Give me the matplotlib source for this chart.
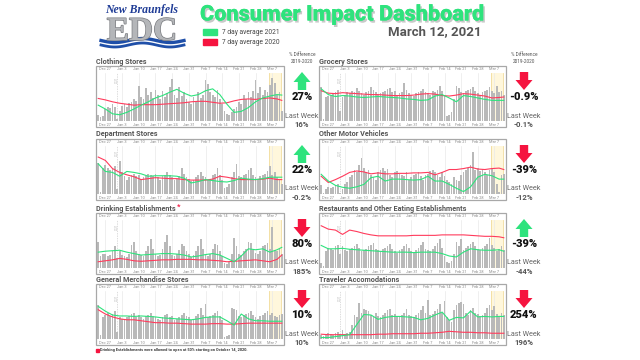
import matplotlib
matplotlib.use("Agg")
import matplotlib.pyplot as plt
import numpy as np
from matplotlib.patches import Rectangle, Polygon
import matplotlib.patheffects as pe

# ---------------- data ----------------
# daily values, Dec 24 2020 .. Mar 11 2021 (78 days), scaled 0-100 of each panel
week_labels = ["Dec 27", "Jan 3", "Jan 10", "Jan 17", "Jan 24", "Jan 31",
               "Feb 7", "Feb 14", "Feb 21", "Feb 28", "Mar 7"]
week_days = [3, 10, 17, 24, 31, 38, 45, 52, 59, 66, 73]
line_days = [0, 3, 6, 9, 12, 15, 18, 21, 24, 27, 30, 33, 36, 39, 42, 45, 48,
             51, 54, 57, 60, 63, 66, 69, 72, 75, 77]

clothing_bars = [12, 8, 10,
                 25, 30, 28, 35, 30, 5, 20,
                 32, 35, 30, 38, 40, 45, 42,
                 72, 50, 45, 68, 55, 60, 48,
                 65, 55, 45, 62, 50, 58, 70,
                 88, 55, 48, 70, 52, 60, 45,
                 40, 35, 50, 42, 60, 48, 55,
                 85, 78, 60, 55, 50, 65, 45,
                 35, 20, 15, 12, 18, 25, 30,
                 40, 35, 55, 45, 60, 50, 62,
                 85, 58, 70, 55, 65, 60, 75,
                 90, 80, 55, 60, 20]
clothing_2021 = [33, 25, 15, 13, 18, 25, 33, 40, 48, 53, 60, 66, 58, 52, 55, 63,
                 67, 55, 35, 18, 20, 28, 40, 48, 52, 55, 54]
clothing_2020 = [47, 44, 40, 37, 35, 33, 34, 34, 34, 35, 36, 37, 38, 40, 41, 41,
                 39, 37, 38, 42, 45, 46, 45, 47, 48, 46, 43]

grocery_bars = [70, 5, 50,
                52, 55, 58, 60, 65, 20, 50,
                55, 60, 58, 62, 60, 68, 62,
                58, 55, 60, 62, 70, 65, 60,
                55, 58, 60, 62, 66, 68, 60,
                62, 55, 58, 60, 80, 65, 58,
                55, 52, 58, 60, 62, 66, 60,
                58, 55, 62, 60, 65, 72, 62,
                55, 10, 12, 18, 45, 72, 68,
                60, 58, 62, 65, 66, 70, 62,
                58, 55, 60, 62, 65, 70, 62,
                58, 72, 60, 62, 55]
grocery_2021 = [67, 55, 51, 53, 52, 50, 49, 50, 51, 50, 49, 48, 46, 45, 43, 44,
                52, 55, 48, 40, 53, 51, 48, 45, 43, 43, 43]
grocery_2020 = [63, 58, 57, 59, 58, 57, 56, 55, 55, 54, 53, 53, 53, 54, 56, 57,
                56, 53, 52, 54, 57, 56, 54, 52, 48, 49, 50]

department_bars = [65, 5, 55,
                   60, 55, 50, 52, 58, 10, 68,
                   45, 38, 30, 35, 40, 42, 38,
                   40, 32, 35, 38, 42, 40, 38,
                   42, 35, 30, 38, 40, 45, 40,
                   35, 30, 32, 38, 55, 42, 35,
                   32, 28, 30, 35, 40, 45, 38,
                   35, 30, 32, 40, 42, 55, 40,
                   30, 12, 15, 20, 35, 45, 62,
                   38, 35, 40, 42, 50, 55, 40,
                   35, 32, 38, 40, 42, 48, 58,
                   40, 45, 35, 30, 20]
department_2021 = [63, 47, 45, 37, 47, 45, 42, 37, 38, 38, 38, 37, 33, 23, 26, 30,
                   28, 26, 25, 28, 33, 31, 30, 32, 35, 35, 35]
department_2020 = [77, 70, 53, 45, 40, 36, 30, 32, 34, 33, 32, 32, 30, 29, 29, 29,
                   31, 37, 35, 32, 30, 30, 30, 31, 33, 30, 30]

motor_bars = [18, 3, 10,
              15, 12, 14, 18, 20, 3, 10,
              20, 25, 35, 40, 50, 45, 60,
              75, 55, 45, 50, 40, 35, 30,
              45, 50, 55, 48, 52, 40, 35,
              45, 48, 42, 40, 38, 45, 30,
              35, 40, 42, 45, 38, 30, 40,
              42, 48, 50, 45, 40, 35, 45,
              38, 30, 25, 20, 35, 30, 28,
              40, 45, 50, 55, 60, 88, 50,
              55, 48, 52, 45, 40, 50, 55,
              45, 20, 5, 40, 42]
motor_2021 = [41, 27, 18, 14, 12, 15, 20, 34, 37, 27, 31, 31, 30, 29, 30, 37,
              27, 27, 20, 12, 5, 15, 35, 41, 38, 31, 31]
motor_2020 = [37, 24, 30, 37, 45, 48, 46, 42, 44, 42, 42, 43, 43, 44, 44, 45,
              40, 45, 51, 51, 53, 56, 52, 51, 53, 54, 51]

drinking_bars = [55, 25, 30,
                 30, 25, 28, 35, 45, 20, 35,
                 28, 25, 22, 30, 48, 55, 35,
                 30, 28, 25, 35, 45, 60, 40,
                 30, 25, 28, 40, 55, 68, 45,
                 28, 25, 30, 38, 50, 45, 35,
                 30, 22, 28, 35, 45, 60, 40,
                 28, 25, 30, 40, 50, 48, 35,
                 25, 10, 8, 12, 30, 62, 45,
                 30, 28, 35, 40, 55, 52, 38,
                 32, 30, 35, 45, 48, 52, 40,
                 85, 38, 35, 40, 30]
drinking_2021 = [33, 35, 36, 37, 33, 30, 27, 28, 29, 30, 30, 29, 27, 23, 25, 28,
                 30, 27, 20, 13, 25, 40, 38, 40, 33, 38, 43]
drinking_2020 = [13, 15, 17, 20, 18, 15, 14, 15, 16, 17, 17, 18, 18, 18, 17, 17,
                 16, 15, 13, 14, 15, 16, 17, 15, 13, 18, 27]

restaurant_bars = [10, 5, 35,
                   42, 40, 38, 45, 48, 30, 45,
                   38, 35, 40, 42, 45, 50, 42,
                   35, 38, 40, 45, 48, 52, 40,
                   38, 35, 40, 42, 45, 50, 40,
                   35, 32, 38, 40, 45, 50, 42,
                   35, 33, 38, 42, 48, 55, 40,
                   38, 35, 40, 45, 52, 60, 42,
                   25, 12, 10, 15, 30, 55, 45,
                   60, 38, 42, 45, 50, 55, 45,
                   40, 38, 42, 45, 50, 62, 48,
                   42, 35, 40, 45, 38]
restaurant_2021 = [47, 40, 40, 41, 39, 38, 37, 36, 35, 34, 33, 33, 33, 32, 33, 33,
                   33, 30, 25, 23, 33, 40, 38, 37, 37, 38, 35]
restaurant_2020 = [88, 81, 79, 70, 79, 76, 72, 69, 67, 67, 67, 67, 67, 68, 68, 68,
                   68, 69, 69, 69, 69, 68, 67, 66, 66, 65, 63]

general_bars = [70, 8, 45,
                50, 55, 48, 52, 58, 15, 45,
                42, 40, 45, 48, 52, 55, 45,
                50, 45, 42, 48, 50, 55, 48,
                45, 42, 40, 45, 50, 52, 45,
                48, 40, 42, 45, 50, 55, 48,
                45, 40, 42, 48, 52, 65, 50,
                72, 45, 48, 50, 55, 58, 48,
                40, 5, 6, 8, 64, 62, 60,
                48, 45, 50, 52, 55, 58, 50,
                45, 42, 48, 50, 55, 58, 50,
                55, 48, 45, 50, 52]
general_2021 = [68, 58, 50, 48, 48, 47, 48, 47, 46, 44, 43, 42, 41, 40, 42, 45,
                46, 46, 38, 29, 52, 42, 38, 38, 37, 37, 37]
general_2020 = [61, 52, 46, 42, 40, 40, 38, 36, 34, 34, 33, 33, 32, 31, 31, 31,
                32, 32, 31, 31, 32, 33, 33, 33, 33, 33, 33]

traveler_bars = [8, 6, 10,
                 12, 10, 8, 12, 15, 10, 18,
                 10, 12, 15, 30, 50, 45, 75,
                 55, 62, 60, 58, 50, 45, 55,
                 48, 45, 50, 55, 60, 62, 50,
                 52, 48, 45, 50, 55, 62, 50,
                 48, 45, 50, 55, 60, 68, 55,
                 82, 50, 52, 58, 62, 72, 55,
                 80, 45, 40, 35, 60, 70, 75,
                 78, 72, 55, 50, 60, 65, 55,
                 52, 48, 50, 55, 65, 70, 60,
                 68, 52, 45, 55, 50]
traveler_2021 = [3, 3, 5, 7, 9, 30, 51, 50, 41, 45, 47, 47, 46, 45, 40, 43,
                 50, 56, 39, 45, 44, 58, 46, 47, 46, 47, 47]
traveler_2020 = [10, 9, 9, 9, 9, 9, 9, 9, 10, 10, 11, 11, 11, 11, 12, 12,
                 13, 14, 16, 15, 14, 14, 13, 13, 12, 12, 12]

panel_titles = ["Clothing Stores", "Grocery Stores", "Department Stores",
                "Other Motor Vehicles", "Drinking Establishments",
                "Restaurants and Other Eating Establishments",
                "General Merchandise Stores", "Traveler Accomodations"]
pct_diff = ["27%", "-0.9%", "22%", "-39%", "80%", "-39%", "10%", "254%"]
last_week = ["16%", "-0.1%", "-0.2%", "-12%", "185%", "-44%", "10%", "196%"]
arrow_up = [True, False, True, False, False, True, False, False]

all_bars = [clothing_bars, grocery_bars, department_bars, motor_bars,
            drinking_bars, restaurant_bars, general_bars, traveler_bars]
all_2021 = [clothing_2021, grocery_2021, department_2021, motor_2021,
            drinking_2021, restaurant_2021, general_2021, traveler_2021]
all_2020 = [clothing_2020, grocery_2020, department_2020, motor_2020,
            drinking_2020, restaurant_2020, general_2020, traveler_2020]
for b in all_bars:
    assert len(b) == 78, len(b)
for l in all_2021 + all_2020:
    assert len(l) == len(line_days), len(l)

# ---------------- style ----------------
W, H = 640, 360
GREEN = '#2ee37d'
RED = '#f5143f'
LINE_RED = '#ff3b5c'
BAR = '#b9b9b9'

fig = plt.figure(figsize=(6.4, 3.6), dpi=100)
fig.patch.set_facecolor('white')


def fx(x):
    return x / W


def fy(y):
    return 1 - y / H


def ftext(x, y, s, **kw):
    return fig.text(fx(x), fy(y), s, **kw)


# ---------------- header ----------------
ftext(142, 9.5, "New Braunfels", family='Liberation Serif', style='italic',
      weight='bold', color='#1f3c96', fontsize=8.5, ha='center', va='center')
ftext(142, 40, "EDC", family='Liberation Serif', weight='bold', color='#b4b6b9',
      fontsize=24, ha='center', va='baseline',
      path_effects=[pe.withStroke(linewidth=1.0, foreground='#7a7c80')])
wx = np.linspace(101, 184, 60)
for off, lw in [(0, 2.4), (4.5, 2.0)]:
    wy = 40.5 + off + 2.0 * np.sin((wx - 101) / 83 * 2 * np.pi * 1.5)
    fig.add_artist(plt.Line2D(fx(wx), fy(wy), color='#1f4fa8', lw=lw,
                              transform=fig.transFigure))

ftext(200, 14.5, "Consumer Impact Dashboard", family='Roboto', weight='heavy',
      fontsize=15.6, color=GREEN, ha='left', va='center',
      path_effects=[pe.withSimplePatchShadow(offset=(1.2, -1.5),
                                             shadow_rgbFace='#888888', alpha=0.45),
                    pe.Normal()])
ftext(482, 32, "March 12, 2021", family='Roboto', weight='bold', fontsize=9.5,
      color='#555555', ha='right', va='center')

fig.add_artist(Rectangle((fx(203), fy(35)), 14 / W, 6 / H, color=GREEN,
                         transform=fig.transFigure))
fig.add_artist(Rectangle((fx(203), fy(45)), 14 / W, 6 / H, color=RED,
                         transform=fig.transFigure))
ftext(222, 32, "7 day average 2021", family='Roboto', fontsize=4.8,
      color='#444444', ha='left', va='center')
ftext(222, 42, "7 day average 2020", family='Roboto', fontsize=4.8,
      color='#444444', ha='left', va='center')

# ---------------- panels ----------------
col_x = [(96, 284), (319, 506)]
ind_cx = [302, 524]
row_y = [(66, 127), (139, 200), (213, 274), (284, 345)]

days = np.arange(78)


def draw_panel(i):
    col = i % 2
    row = i // 2
    x0, x1 = col_x[col]
    y0, y1 = row_y[row]
    fig.add_artist(Rectangle((fx(x0), fy(y1)), (x1 - x0) / W, (y1 - y0) / H,
                             fill=False, ec='#a8a8a8', lw=0.9,
                             transform=fig.transFigure))
    ftext(x0, y0 - 4.5, panel_titles[i], family='Roboto', weight='bold',
          fontsize=5.2, color='#555555', ha='left', va='center')
    if i == 4:
        ftext(x0 + 81, y0 - 6.5, "*", family='Roboto', weight='bold',
              fontsize=5.5, color=RED, ha='left', va='center')
    ax = fig.add_axes([fx(x0 + 1), fy(y1 - 6), (x1 - x0 - 2) / W,
                       (y1 - y0 - 13) / H])
    ax.set_xlim(-0.5, 77.5)
    ax.set_ylim(0, 100)
    ax.axvspan(71.5, 76.5, color='#fff7dc', zorder=0, lw=0)
    for xv in (71.5, 76.5):
        ax.axvline(xv, color='#f1dc9c', lw=0.6, zorder=0.5)
    for wd in week_days:
        ax.axvline(wd, color='#e9e9e9', lw=0.5, zorder=0.4)
    ax.axvline(8, color='#cfcfcf', lw=0.5, ls=(0, (2, 1.5)), zorder=0.6)
    ax.text(8, 92, "2021", rotation=90, fontsize=2.2, color='#bbbbbb',
            ha='center', va='top', family='Roboto')
    ax.bar(days, all_bars[i], width=0.72, color=BAR, zorder=1)
    ax.plot(line_days, all_2020[i], color=LINE_RED, lw=0.8, zorder=3)
    ax.plot(line_days, all_2021[i], color=GREEN, lw=0.8, zorder=3)
    for s in ax.spines.values():
        s.set_visible(False)
    ax.set_yticks([])
    ax.set_xticks(week_days)
    ax.set_xticklabels(week_labels, family='Roboto')
    ax.tick_params(axis='x', length=0, labelsize=2.8, labelcolor='#8a8a8a',
                   labeltop=True, labelbottom=True, pad=1.1)
    ax.patch.set_alpha(0)

    # indicator
    cx = ind_cx[col]
    if row == 0:
        ftext(cx, 55, "% Difference", family='Roboto', fontsize=3.4,
              color='#555555', ha='center', va='center')
        ftext(cx, 61.5, "2019-2020", family='Roboto', fontsize=3.4,
              color='#555555', ha='center', va='center')
    a_top = y0 + 6
    a_bot = y0 + 24
    hw, sw, hh = 8.5, 4.2, 10
    if arrow_up[i]:
        pts = [(cx, a_top), (cx + hw, a_top + hh), (cx + sw, a_top + hh),
               (cx + sw, a_bot), (cx - sw, a_bot), (cx - sw, a_top + hh),
               (cx - hw, a_top + hh)]
        c = GREEN
    else:
        pts = [(cx, a_bot), (cx + hw, a_bot - hh), (cx + sw, a_bot - hh),
               (cx + sw, a_top), (cx - sw, a_top), (cx - sw, a_bot - hh),
               (cx - hw, a_bot - hh)]
        c = RED
    fig.add_artist(Polygon([(fx(px), fy(py)) for px, py in pts], closed=True,
                           color=c, transform=fig.transFigure, lw=0))
    ftext(cx, y0 + 31, pct_diff[i], family='Roboto', weight='heavy',
          fontsize=8, color='#111111', ha='center', va='center')
    ftext(cx, y0 + 50, "Last Week", family='Roboto', fontsize=5.2,
          color='#666666', ha='center', va='center')
    ftext(cx, y0 + 58.5, last_week[i], family='Roboto', weight='bold',
          fontsize=5.6, color='#555555', ha='center', va='center')


for i in range(8):
    draw_panel(i)

fig.add_artist(Rectangle((fx(95.5), fy(351.5)), 3 / W, 3 / H, color=RED,
                         transform=fig.transFigure))
ftext(100, 350, "Drinking Establishments were allowed to open at 50% starting on October 14, 2020.",
      family='Roboto', weight='bold', fontsize=2.8, color='#333333',
      ha='left', va='center')

fig.savefig("out.png", dpi=100, facecolor='white')
